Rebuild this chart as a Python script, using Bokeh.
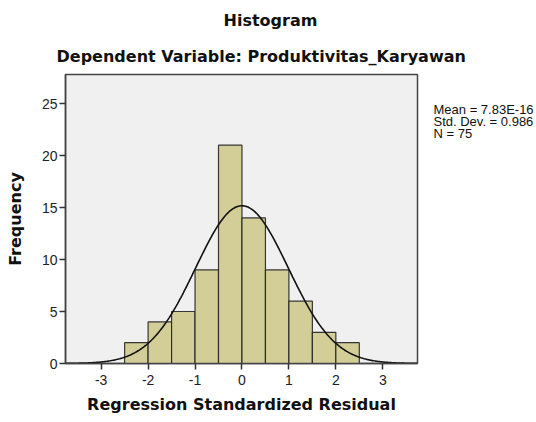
import numpy as np
from bokeh.plotting import figure
from bokeh.models import Range1d, Title, FixedTicker, LinearAxis
from bokeh.embed import file_html
from bokeh.resources import INLINE

# data
bin_edges = [-2.5, -2.0, -1.5, -1.0, -0.5, 0.0, 0.5, 1.0, 1.5, 2.0, 2.5]
counts = [2, 4, 5, 9, 21, 14, 9, 6, 3, 2]
mean_val = 7.83e-16
std_val = 0.986
n_val = 75
x_ticks = [-3, -2, -1, 0, 1, 2, 3]
x_tick_labels = ["-3", "-2", "-1", "0", "1", "2", "3"]
y_ticks = [0, 5, 10, 15, 20, 25]
stats_lines = ["Mean = 7.83E-16", "Std. Dev. = 0.986", "N = 75"]

FONT = "Liberation Sans"
TFONT = "DejaVu Sans"

p = figure(width=536, height=416, output_backend="svg", toolbar_location=None,
           x_range=Range1d(-3.76, 3.74), y_range=Range1d(0, 27.8),
           min_border_left=65, min_border_right=116, min_border_top=74, min_border_bottom=53)
p.background_fill_color = "#F0F0F0"
p.border_fill_color = "white"
p.outline_line_color = "#444444"
p.outline_line_width = 1.5
p.xgrid.visible = False
p.ygrid.visible = False

p.quad(left=bin_edges[:-1], right=bin_edges[1:], bottom=0, top=counts,
       fill_color="#D3CE97", line_color="#222222", line_width=1.2, line_alpha=0.9)

bw = bin_edges[1] - bin_edges[0]
xs = np.linspace(-3.76, 3.74, 300)
ys = n_val * bw * np.exp(-0.5 * ((xs - mean_val) / std_val) ** 2) / (std_val * np.sqrt(2 * np.pi))
p.line(xs, ys, line_color="#111111", line_width=1.6)

for ax in (p.xaxis[0], p.yaxis[0]):
    ax.axis_line_color = "#444444"
    ax.axis_line_width = 1.5
    ax.major_tick_line_color = "#333333"
    ax.major_tick_line_width = 1.5
    ax.major_tick_out = 6
    ax.major_tick_in = 0
    ax.minor_tick_line_color = None
    ax.major_label_text_font = FONT
    ax.major_label_text_font_size = "14px"
    ax.major_label_text_color = "#222222"
    ax.axis_label_text_font = TFONT
    ax.axis_label_text_font_size = "16px"
    ax.axis_label_text_font_style = "bold"
    ax.axis_label_text_color = "#111111"

p.xaxis.ticker = FixedTicker(ticks=x_ticks)
p.xaxis.major_label_overrides = dict(zip(x_ticks, x_tick_labels))
p.yaxis.ticker = FixedTicker(ticks=y_ticks)
p.xaxis.axis_label = "Regression Standardized Residual"
p.yaxis.axis_label = "Frequency"
p.xaxis.major_label_standoff = 5
p.yaxis.major_label_standoff = 2
p.xaxis.axis_label_standoff = 7
p.yaxis.axis_label_standoff = 14

# stats text as a label-only axis on the right
p.extra_y_ranges = {"stats": Range1d(-18.17, 5.91)}
stats_axis = LinearAxis(y_range_name="stats", ticker=FixedTicker(ticks=[3, 2, 1]),
                        major_label_overrides={3: stats_lines[0], 2: stats_lines[1], 1: stats_lines[2]},
                        axis_line_color=None, major_tick_line_color=None, minor_tick_line_color=None,
                        major_label_standoff=10, major_label_text_font=FONT,
                        major_label_text_font_size="13px", major_label_text_color="#111111")
p.add_layout(stats_axis, "right")

p.title.text = "Histogram"
p.title.align = "left"
p.title.offset = 158
p.title.text_font = TFONT
p.title.text_font_size = "16px"
p.title.text_font_style = "bold"
p.title.text_color = "#111111"
p.title.standoff = 11
sub = Title(text="Dependent Variable: Produktivitas_Karyawan", align="left", offset=-9,
            text_font=TFONT, text_font_size="16px", text_font_style="bold",
            text_color="#111111", standoff=18)
p.add_layout(sub, "above")

open("out.html", "w").write(file_html(p, INLINE))
